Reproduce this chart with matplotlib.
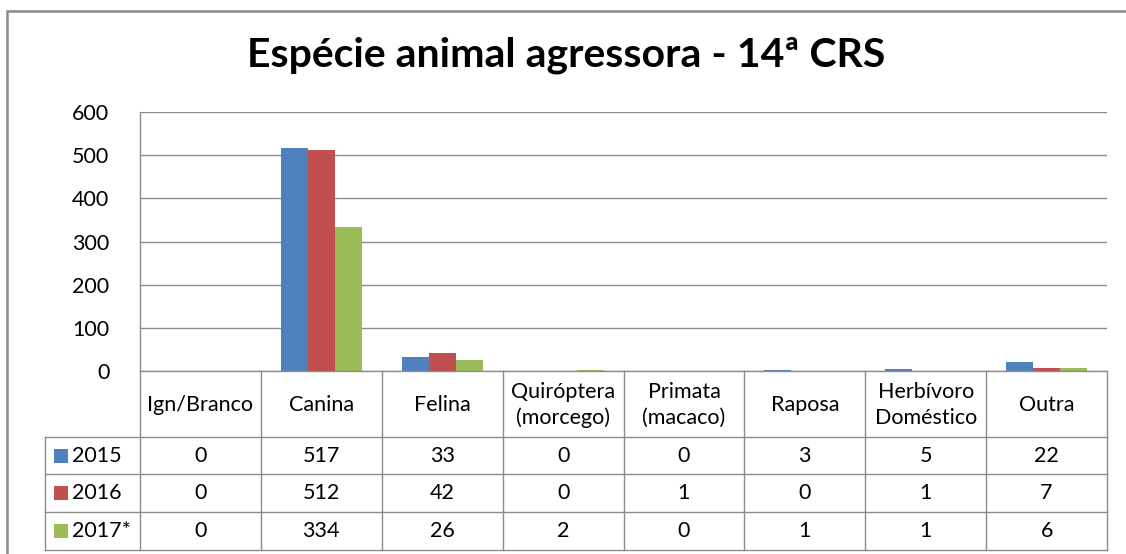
import matplotlib
matplotlib.use('Agg')
import matplotlib.pyplot as plt
from matplotlib.transforms import blended_transform_factory
from matplotlib.lines import Line2D
from matplotlib.patches import Rectangle

plt.rcParams['font.family'] = ['Lato', 'DejaVu Sans']

categories = ['Ign/Branco', 'Canina', 'Felina', 'Quiróptera\n(morcego)', 'Primata\n(macaco)',
              'Raposa', 'Herbívoro\nDoméstico', 'Outra']
years = ['2015', '2016', '2017*']
v2015 = [0, 517, 33, 0, 0, 3, 5, 22]
v2016 = [0, 512, 42, 0, 1, 0, 1, 7]
v2017 = [0, 334, 26, 2, 0, 1, 1, 6]
yticks = [0, 100, 200, 300, 400, 500, 600]
title = 'Espécie animal agressora - 14ª CRS'

colors = ['#4F81BD', '#C0504D', '#9BBB59']
gray = '#8C8C8C'
fs = 15.5

W, H = 1126, 554
def fy(p):
    return 1 - p / H

fig = plt.figure(figsize=(W / 100, H / 100), dpi=100)
ax = fig.add_axes([140 / W, fy(371), (1107 - 140) / W, (371 - 112) / H])

series = [v2015, v2016, v2017]
n = len(categories)
bw = 0.2233
for k, vals in enumerate(series):
    ax.bar([i + (k - 1) * bw for i in range(n)], vals, width=bw, color=colors[k], edgecolor='none')

ax.set_xlim(-0.5, n - 0.5)
ax.set_ylim(0, 600)
ax.set_yticks(yticks)
ax.set_xticks([])
ax.yaxis.grid(True, color=gray, lw=1)
ax.set_axisbelow(True)
for s in ['top', 'right']:
    ax.spines[s].set_visible(False)
for s in ['left', 'bottom']:
    ax.spines[s].set_color(gray)
    ax.spines[s].set_linewidth(1)
ax.tick_params(axis='y', length=0, pad=22, labelsize=fs)

# Data table under the plot.
tr = blended_transform_factory(ax.transData, fig.transFigure)
rows_y = [437, 474, 512, 550]
for i in range(n + 1):
    fig.add_artist(Line2D([i - 0.5, i - 0.5], [fy(371), fy(550)], transform=tr, color=gray, lw=1))
for py in rows_y:
    fig.add_artist(Line2D([45 / W, 1107 / W], [fy(py), fy(py)], transform=fig.transFigure, color=gray, lw=1))
fig.add_artist(Line2D([45 / W, 45 / W], [fy(437), fy(550)], transform=fig.transFigure, color=gray, lw=1))

for i, cat in enumerate(categories):
    fig.text(i, fy(405), cat, transform=tr, ha='center', va='center', fontsize=fs, linespacing=1.35)

for r, vals in enumerate(series):
    yc = fy((rows_y[r] + rows_y[r + 1]) / 2)
    for i, v in enumerate(vals):
        fig.text(i, yc, str(v), transform=tr, ha='center', va='center', fontsize=fs)
    fig.add_artist(Rectangle((54 / W, yc - 7 / H), 14 / W, 14 / H, transform=fig.transFigure,
                             facecolor=colors[r], edgecolor='none'))
    fig.text(72 / W, yc, years[r], ha='left', va='center', fontsize=fs)

# Outer chart frame (partly off the image).
fig.add_artist(Rectangle((7 / W, -0.1), 2, fy(11) + 0.1, transform=fig.transFigure,
                         facecolor='none', edgecolor='#8A8A8A', lw=1.8))

fig.text(566 / W, fy(66), title, ha='center', va='baseline', fontsize=29.5, fontweight='bold')

fig.savefig('out.png', dpi=100)
